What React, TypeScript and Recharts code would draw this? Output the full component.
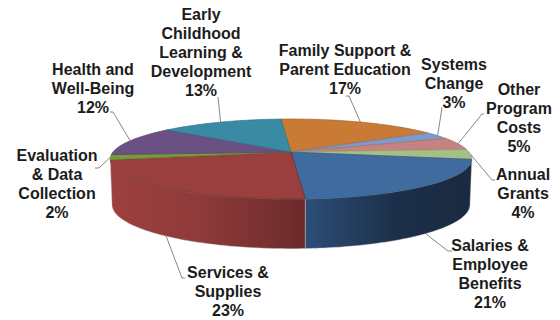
import { Pie, PieChart } from "recharts";

const categories = [
  "Family Support & Parent Education",
  "Systems Change",
  "Other Program Costs",
  "Annual Grants",
  "Salaries & Employee Benefits",
  "Services & Supplies",
  "Evaluation & Data Collection",
  "Health and Well-Being",
  "Early Childhood Learning & Development",
];
const shares = [17, 3, 5, 4, 21, 23, 2, 12, 13];
const topColors = [
  "#c97a35",
  "#7f9ac6",
  "#c48381",
  "#a6bf85",
  "#3f6b9e",
  "#9b3f3e",
  "#7b9a3f",
  "#6a5083",
  "#3a8aa3",
];
const wallFills = ["none", "none", "none", "none", "url(#wallBlue)", "url(#wallRed)", "none", "none", "none"];
const edgeColors = [
  "#a8652c",
  "#6a82a8",
  "#a86e6c",
  "#8ca36e",
  "#345a86",
  "#5e2a2a",
  "#66802f",
  "#57426c",
  "#2f7289",
];

// wrapped label text, one entry per line
const labelLines = [
  ["Family Support &", "Parent Education"],
  ["Systems", "Change"],
  ["Other", "Program", "Costs"],
  ["Annual", "Grants"],
  ["Salaries &", "Employee", "Benefits"],
  ["Services &", "Supplies"],
  ["Evaluation", "& Data", "Collection"],
  ["Health and", "Well-Being"],
  ["Early", "Childhood", "Learning &", "Development"],
];

// label placement: centre x, first line middle y, then the leader's elbow and end
const labelPlacement = [
  { x: 345, y: 50, elbow: [349, 96], end: [346, 96] },
  { x: 454, y: 64, elbow: [442, 108], end: [441, 108] },
  { x: 519, y: 89, elbow: [482, 114], end: [484, 114] },
  { x: 523, y: 174, elbow: [492, 180], end: [495, 180] },
  { x: 490, y: 245, elbow: [448, 251], end: [452, 251] },
  { x: 228, y: 272, elbow: [182, 278], end: [185, 278] },
  { x: 57, y: 155, elbow: [99, 168], end: [95, 168] },
  { x: 93, y: 69, elbow: [113, 112], end: [110, 112] },
  { x: 201, y: 14, elbow: [218, 97], end: [218, 97] },
];

const table = categories.map((name, i) => ({
  name,
  value: shares[i],
  fill: topColors[i],
  wall: wallFills[i],
  edge: edgeColors[i],
}));

const CHART_W = 560;
const CHART_H = 320;
const RAD = Math.PI / 180;

// tilted disc: the pie's own angles go through a perspective projection
const PERSPECTIVE = 0.175;
const SQUASH = 0.2177;
const FRONT_LIMIT = -10.1;
const LEFT_LIMIT = -169.9;

const rimPoint = (cx: number, cy: number, r: number, deg: number, low = false) => {
  const u = Math.cos(deg * RAD);
  const v = -Math.sin(deg * RAD);
  const d = 1 - PERSPECTIVE * v;
  const x = (r * u) / d;
  const y = (r * SQUASH * v) / d;
  return low ? [cx + x * 0.99, cy + y * 1.1 + 45] : [cx + x, cy + y];
};

const arcPoints = (cx: number, cy: number, r: number, from: number, to: number, low = false) => {
  const steps = Math.max(2, Math.ceil(Math.abs(from - to)));
  const pts: number[][] = [];
  for (let i = 0; i <= steps; i++) {
    pts.push(rimPoint(cx, cy, r, from + ((to - from) * i) / steps, low));
  }
  return pts;
};

const toPath = (pts: number[][]) =>
  pts.map((p, i) => `${i ? "L" : "M"}${p[0].toFixed(2)} ${p[1].toFixed(2)}`).join(" ");

const TopFace = (props: any) => {
  const { cx, cy, outerRadius, startAngle, endAngle, fill, edge } = props;
  const pts = [[cx, cy], ...arcPoints(cx, cy, outerRadius, startAngle, endAngle)];
  return <path d={`${toPath(pts)} Z`} fill={fill} stroke={edge} strokeWidth={0.7} strokeLinejoin="round" />;
};

const SideWall = (props: any) => {
  const { cx, cy, outerRadius, startAngle, endAngle, wall } = props;
  const from = Math.min(startAngle, FRONT_LIMIT);
  const to = Math.max(endAngle, LEFT_LIMIT);
  if (wall === "none" || from <= to) return <g />;
  const upper = arcPoints(cx, cy, outerRadius, from, to);
  const lower = arcPoints(cx, cy, outerRadius, to, from, true);
  return <path d={`${toPath([...upper, ...lower])} Z`} fill={wall} stroke="#c9c9c9" strokeWidth={0.4} />;
};

const SliceLabel = (props: any) => {
  const { cx, cy, outerRadius, midAngle, index } = props;
  const place = labelPlacement[index];
  const onWall = index === 4 || index === 5;
  const start = rimPoint(cx, cy, outerRadius, midAngle, onWall);
  const lines = [...labelLines[index], `${shares[index]}%`];
  return (
    <g>
      <polyline
        points={`${start[0]},${start[1]} ${place.elbow[0]},${place.elbow[1]} ${place.end[0]},${place.end[1]}`}
        fill="none"
        stroke="#868686"
        strokeWidth={1}
      />
      <text
        x={place.x}
        y={place.y}
        textAnchor="middle"
        fontFamily="Liberation Sans"
        fontWeight="bold"
        fontSize={16}
        fill="#1c1c1c"
      >
        {lines.map((line, i) => (
          <tspan key={line} x={place.x} y={place.y + i * 19 + 5.5}>
            {line}
          </tspan>
        ))}
      </text>
    </g>
  );
};

export default function App() {
  return (
    <div style={{ position: "fixed", left: 0, top: 0, width: CHART_W, height: CHART_H, background: "#fff" }}>
      <PieChart width={CHART_W} height={CHART_H} margin={{ top: 0, right: 0, bottom: 0, left: 0 }}>
        <defs>
          <linearGradient id="wallRed" x1="0" y1="0" x2="1" y2="0">
            <stop offset="0%" stopColor="#9d3f3d" />
            <stop offset="45%" stopColor="#8f3b3a" />
            <stop offset="100%" stopColor="#6c2a2b" />
          </linearGradient>
          <linearGradient id="wallBlue" x1="0" y1="0" x2="1" y2="0">
            <stop offset="0%" stopColor="#2c4e77" />
            <stop offset="55%" stopColor="#1c2f49" />
            <stop offset="100%" stopColor="#1a2a40" />
          </linearGradient>
        </defs>
        <Pie
          data={table}
          dataKey="value"
          nameKey="name"
          cx={291}
          cy={152}
          outerRadius={178}
          startAngle={93.8}
          endAngle={-266.2}
          stroke="none"
          shape={SideWall}
          isAnimationActive={false}
        />
        <Pie
          data={table}
          dataKey="value"
          nameKey="name"
          cx={291}
          cy={152}
          outerRadius={178}
          startAngle={93.8}
          endAngle={-266.2}
          shape={TopFace}
          label={SliceLabel}
          labelLine={false}
          isAnimationActive={false}
        />
      </PieChart>
    </div>
  );
}
